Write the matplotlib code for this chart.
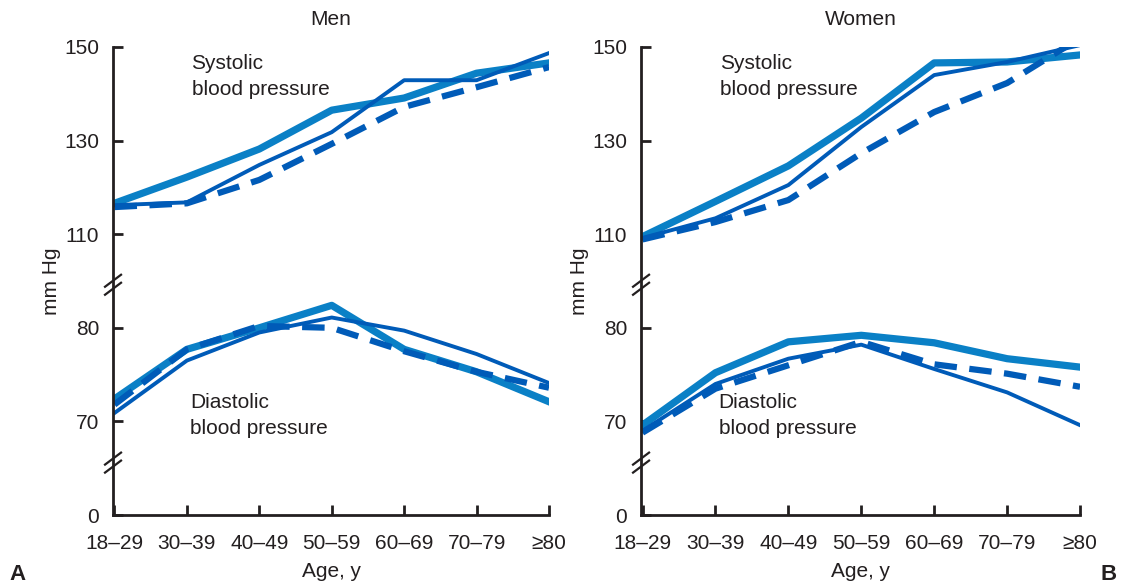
import numpy as np
import matplotlib
matplotlib.use("Agg")
import matplotlib.pyplot as plt

plt.rcParams['font.family'] = ['Liberation Sans', 'DejaVu Sans']

# age groups
ages = ["18–29", "30–39", "40–49", "50–59", "60–69", "70–79", "≥80"]

# Men, systolic (thick light / thin dark / dashed dark)
men_sys_thick = [116.6, 122.2, 128.2, 136.5, 139.1, 144.4, 146.6]
men_sys_thin = [116.2, 116.8, 124.8, 131.8, 142.9, 142.9, 148.7]
men_sys_dash = [115.8, 116.6, 121.6, 129.3, 137.2, 141.4, 145.7]
# Men, diastolic
men_dia_thick = [72.4, 77.7, 80.0, 82.4, 77.7, 75.3, 72.1]
men_dia_thin = [70.9, 76.5, 79.5, 81.1, 79.7, 77.2, 74.1]
men_dia_dash = [71.8, 77.7, 80.2, 80.0, 77.5, 75.3, 73.6]

# Women, systolic
wom_sys_thick = [108.7, 117.0, 124.6, 134.8, 146.6, 146.8, 148.3]
wom_sys_thin = [108.0, 113.4, 120.5, 132.9, 144.0, 146.8, 150.4]
wom_sys_dash = [107.2, 112.6, 117.3, 127.3, 136.1, 142.3, 151.9]
# Women, diastolic
wom_dia_thick = [69.6, 75.2, 78.5, 79.2, 78.4, 76.7, 75.8]
wom_dia_thin = [69.0, 74.0, 76.7, 78.2, 75.6, 73.1, 69.6]
wom_dia_dash = [68.8, 73.5, 76.0, 78.5, 76.1, 75.1, 73.7]

yticks = [0, 70, 80, 110, 130, 150]

# broken axis: systolic part is squeezed to half the diastolic scale
real_pts = [0, 65, 85, 110, 200]
axis_pts = [60, 65, 85, 90, 135]


def fwd(v):
    return np.interp(v, real_pts, axis_pts)


def inv(p):
    return np.interp(p, axis_pts, real_pts)


light = "#0a80c6"
dark = "#005bb8"
ink = "#231f20"
fs = 15

fig = plt.figure(figsize=(11.28, 5.83), dpi=100)
ax1 = fig.add_axes([0.1002, 0.1166, 0.3865, 0.8028])
ax2 = fig.add_axes([0.5683, 0.1166, 0.3892, 0.8028])

panels = [
    (ax1, "Men", men_sys_thick, men_sys_thin, men_sys_dash,
     men_dia_thick, men_dia_thin, men_dia_dash),
    (ax2, "Women", wom_sys_thick, wom_sys_thin, wom_sys_dash,
     wom_dia_thick, wom_dia_thin, wom_dia_dash),
]

x = np.arange(len(ages))
for ax, title, st, sn, sd, dt, dn, dd in panels:
    ax.set_yscale("function", functions=(fwd, inv))
    for a, b, c in [(st, sn, sd), (dt, dn, dd)]:
        ax.plot(x, a, color=light, lw=5.2)
        ax.plot(x, b, color=dark, lw=2.8)
        ax.plot(x, c, color=dark, lw=4.5, dashes=(3.6, 2.0))
    ax.set_xlim(-0.02, 6.0)
    ax.set_ylim(0, 150)
    ax.set_yticks(yticks)
    ax.set_yticklabels([str(t) for t in yticks])
    ax.set_xticks(x)
    ax.set_xticklabels(ages)
    ax.tick_params(direction="in", length=7, width=2, colors=ink,
                   labelsize=fs, pad=14)
    ax.tick_params(axis="y", pad=10)
    for s in ["top", "right"]:
        ax.spines[s].set_visible(False)
    for s in ["left", "bottom"]:
        ax.spines[s].set_linewidth(2)
        ax.spines[s].set_color(ink)
    ax.set_title(title, fontsize=fs, color=ink, pad=16)
    ax.set_ylabel("mm Hg", fontsize=fs, color=ink, labelpad=2)
    ax.set_xlabel("Age, y", fontsize=fs, color=ink, labelpad=6)
    ax.text(0.18, 0.985, "Systolic\nblood pressure", transform=ax.transAxes,
            fontsize=fs, color=ink, va="top", linespacing=1.45)
    ax.text(0.177, 0.26, "Diastolic\nblood pressure", transform=ax.transAxes,
            fontsize=fs, color=ink, va="top", linespacing=1.45)
    # axis break marks
    w, h = ax.bbox.width, ax.bbox.height
    dx, dy, gap = 8 / w, 6 / h, 8 / h
    for yb in [0.492, 0.112]:
        for off in (-gap / 2, gap / 2):
            ax.plot([-dx, dx], [yb + off - dy, yb + off + dy],
                    transform=ax.transAxes, color=ink, lw=1.6,
                    clip_on=False)

fig.text(0.008, 0.006, "A", fontsize=16, fontweight="bold", color=ink)
fig.text(0.976, 0.006, "B", fontsize=16, fontweight="bold", color=ink)

fig.savefig("out.png", dpi=100)
